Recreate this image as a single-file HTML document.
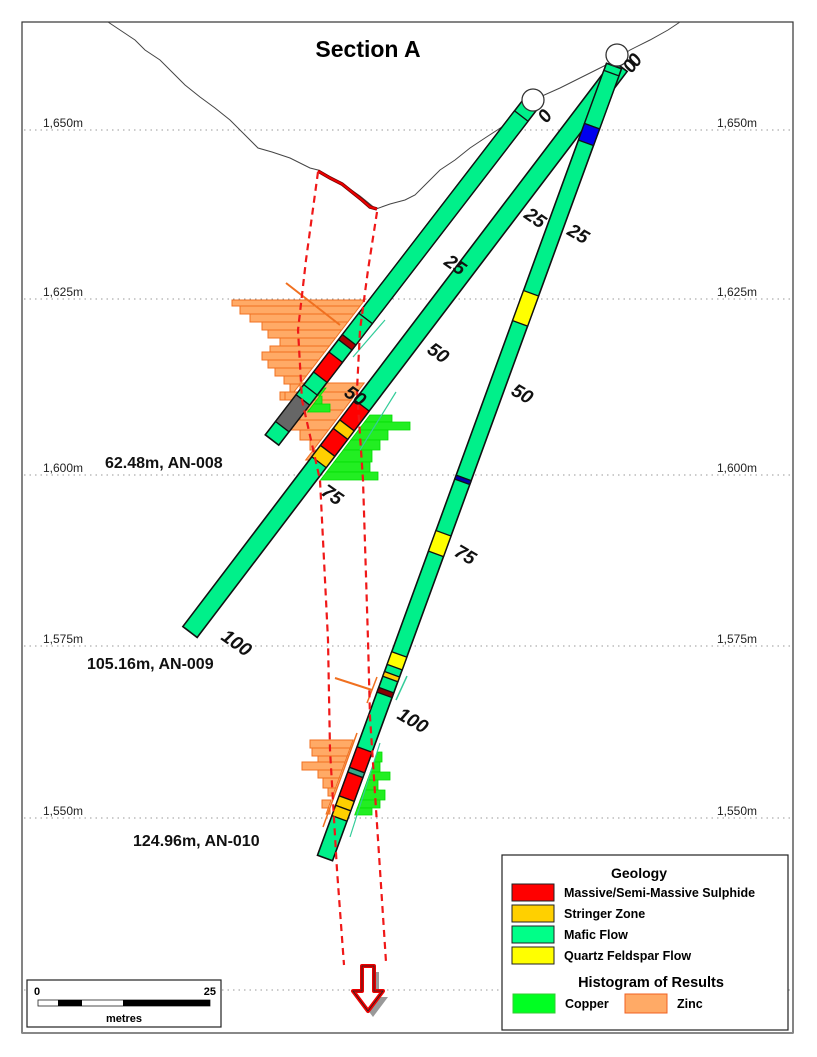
<!DOCTYPE html>
<html><head><meta charset="utf-8">
<style>
html,body{margin:0;padding:0;background:#fff;}
svg{display:block;font-family:"Liberation Sans",Arial,sans-serif;}
</style></head>
<body>
<svg id="s" xmlns="http://www.w3.org/2000/svg" width="817" height="1057" viewBox="0 0 817 1057">
<rect x="22" y="22" width="771" height="1011" fill="#fff" stroke="#333" stroke-width="1.2"/>
<line x1="22" y1="1033" x2="793" y2="1033" stroke="#888" stroke-width="2"/>
<g stroke="#999" stroke-width="1" stroke-dasharray="1.5,4">
<line x1="24" y1="130" x2="792" y2="130"/>
<line x1="24" y1="299" x2="792" y2="299"/>
<line x1="24" y1="475" x2="792" y2="475"/>
<line x1="24" y1="646" x2="792" y2="646"/>
<line x1="24" y1="818" x2="792" y2="818"/>
<line x1="24" y1="990" x2="792" y2="990"/>
</g>
<g font-size="12" fill="#222">
<text x="43" y="127">1,650m</text><text x="717" y="127">1,650m</text>
<text x="43" y="296">1,625m</text><text x="717" y="296">1,625m</text>
<text x="43" y="472">1,600m</text><text x="717" y="472">1,600m</text>
<text x="43" y="643">1,575m</text><text x="717" y="643">1,575m</text>
<text x="43" y="815">1,550m</text><text x="717" y="815">1,550m</text>
</g>
<text x="368" y="57" font-size="23" font-weight="bold" text-anchor="middle">Section A</text>
<polyline fill="none" stroke="#444" stroke-width="1" points="108,22 120,30 135,40 145,50 160,60 175,75 185,85 200,97 215,108 230,120 245,135 258,148 272,152 290,158 310,168 318,170 340,182 360,196 376,209 390,204 405,200 415,195 425,185 440,170 455,160 470,148 485,138 505,125 520,112 533,100 560,88 580,78 600,68 612,62 630,50 650,40 668,30 680,22"/>
<polyline fill="none" stroke="#700" stroke-width="3.5" points="318,171 330,178 342,184 352,192 362,200 370,207 377,209"/>
<polyline fill="none" stroke="#e00" stroke-width="2" points="318,171 330,178 342,184 352,192 362,200 370,207 377,209"/>
<g id="hist"></g>
<g id="holes"></g>
<g fill="none" stroke="#f01818" stroke-width="2.2" stroke-dasharray="7,5">
<path d="M318,172 L306,260 L298,330 L302,400 L320,480 L328,640 L330,750 L337,870 L344,965"/>
<path d="M377,212 L368,270 L360,330 L357,390 L363,480 L368,640 L370,717 L380,870 L386,962"/>
</g>
<g id="circ"></g>
<g font-weight="bold" font-style="italic" font-size="19" fill="#111" id="depth"></g>
<g font-weight="bold" font-size="16" fill="#111">
<text x="105" y="468">62.48m, AN-008</text>
<text x="87" y="669">105.16m, AN-009</text>
<text x="133" y="846">124.96m, AN-010</text>
</g>
<!-- arrow -->
<g transform="translate(368,966)">
<path d="M-6,3 h12 v25 h9 l-15,20 l-15,-20 h9z" fill="#999" transform="translate(5,3)"/>
<path d="M-6,0 h12 v25 h9 l-15,20 l-15,-20 h9z" fill="#fff" stroke="#e00" stroke-width="4" stroke-linejoin="round"/>
<path d="M-6,0 h12 v25 h9 l-15,20 l-15,-20 h9z" fill="none" stroke="#222" stroke-width="0.8"/>
</g>
<!-- scale -->
<rect x="27" y="980" width="194" height="47" fill="#fff" stroke="#222" stroke-width="1.2"/>
<text x="34" y="995" font-size="11" font-weight="bold">0</text>
<text x="216" y="995" font-size="11" font-weight="bold" text-anchor="end">25</text>
<rect x="38" y="1000" width="172" height="6" fill="#fff" stroke="#222" stroke-width="0.8"/>
<rect x="58" y="1000" width="24" height="6" fill="#000"/>
<rect x="123" y="1000" width="87" height="6" fill="#000"/>
<text x="124" y="1022" font-size="11" font-weight="bold" text-anchor="middle">metres</text>
<!-- legend -->
<rect x="502" y="855" width="286" height="175" fill="#fff" stroke="#222" stroke-width="1.2"/>
<text x="639" y="878" font-size="14" font-weight="bold" text-anchor="middle">Geology</text>
<g stroke="#222" stroke-width="1">
<rect x="512" y="884" width="42" height="17" fill="#ff0000"/>
<rect x="512" y="905" width="42" height="17" fill="#ffd000"/>
<rect x="512" y="926" width="42" height="17" fill="#00ff88"/>
<rect x="512" y="947" width="42" height="17" fill="#ffff00"/>
</g>
<g font-size="12.5" font-weight="bold">
<text x="564" y="897">Massive/Semi-Massive Sulphide</text>
<text x="564" y="918">Stringer Zone</text>
<text x="564" y="939">Mafic Flow</text>
<text x="564" y="960">Quartz Feldspar Flow</text>
<text x="565" y="1008">Copper</text>
<text x="677" y="1008">Zinc</text>
</g>
<text x="651" y="987" font-size="14.5" font-weight="bold" text-anchor="middle">Histogram of Results</text>
<rect x="513" y="994" width="42" height="19" fill="#00ff22" stroke="#3c3" stroke-width="1"/>
<rect x="625" y="994" width="42" height="19" fill="#ffaa66" stroke="#f06020" stroke-width="1"/>
</svg>
<script>
var NS="http://www.w3.org/2000/svg";
function el(p,t,a){var e=document.createElementNS(NS,t);for(var k in a)e.setAttribute(k,a[k]);document.getElementById(p).appendChild(e);return e;}
var holes={
 a:{p0:[529,106],p1:[272,440],w:17},
 b:{p0:[620,66],p1:[190,632],w:18},
 c:{p0:[614,66],p1:[325,858],w:16}
};
function pt(h,t,o){var dx=h.p1[0]-h.p0[0],dy=h.p1[1]-h.p0[1],L=Math.hypot(dx,dy);var nx=-dy/L,ny=dx/L;return [h.p0[0]+dx*t+nx*o,h.p0[1]+dy*t+ny*o];}
function seg(h,a,b,fill,sw){var w=h.w/2;var q=[pt(h,a,-w),pt(h,b,-w),pt(h,b,w),pt(h,a,w)];el("holes","polygon",{points:q.map(function(p){return p.join(",")}).join(" "),fill:fill,stroke:"#111","stroke-width":sw||1.3});}
function xAt(h,y){return h.p0[0]+(h.p1[0]-h.p0[0])*(y-h.p0[1])/(h.p1[1]-h.p0[1]);}
function zinc(h,off,bars){bars.forEach(function(b){var y1=b[0],y2=b[1],l=b[2];var q=[[l,y1],[xAt(h,y1)-off,y1],[xAt(h,y2)-off,y2],[l,y2]];el("hist","polygon",{points:q.map(function(p){return p.join(",")}).join(" "),fill:"#ffaa66",stroke:"#f07020","stroke-width":1});});}
function cu(h,off,bars){bars.forEach(function(b){var y1=b[0],y2=b[1],r=b[2];var q=[[xAt(h,y1)+off,y1],[r,y1],[r,y2],[xAt(h,y2)+off,y2]];el("hist","polygon",{points:q.map(function(p){return p.join(",")}).join(" "),fill:"#22ee22",stroke:"#00dd00","stroke-width":0.8});});}
var A=holes.a,B=holes.b,C=holes.c;
zinc(A,15,[[300,306,232],[306,314,240],[314,322,250],[322,330,262],[330,338,268],[338,346,280],[346,352,270],[352,360,262],[360,368,268],[368,376,275],[376,384,284],[384,392,290],[392,400,280]]);
zinc(B,15,[[383,392,300],[392,400,285],[400,410,296],[410,420,300],[420,430,288],[430,440,300],[440,450,310],[450,460,318]]);
zinc(C,15,[[740,748,310],[748,756,312],[756,762,318],[762,770,302],[770,778,318],[778,788,323],[788,796,328],[800,808,322],[808,814,330]]);
cu(A,14,[[388,396,318],[396,404,322],[404,412,330]]);
cu(B,15,[[415,422,392],[422,430,410],[430,440,388],[440,450,380],[450,462,372],[462,472,370],[472,480,378]]);
cu(C,14,[[752,762,382],[762,772,380],[772,780,390],[780,790,378],[790,800,385],[800,808,380],[808,815,372]]);
el("hist","line",{x1:286,y1:283,x2:340,y2:325,stroke:"#f07020","stroke-width":2});
el("hist","line",{x1:335,y1:678,x2:372,y2:690,stroke:"#f07020","stroke-width":2});
el("hist","line",{x1:377,y1:677,x2:367,y2:703,stroke:"#f07020","stroke-width":1.5});
el("hist","line",{x1:357,y1:733,x2:323,y2:827,stroke:"#f07020","stroke-width":1.5});
el("hist","line",{x1:385,y1:320,x2:353,y2:357,stroke:"#3c9","stroke-width":1.2});
el("hist","line",{x1:396,y1:392,x2:360,y2:450,stroke:"#3c9","stroke-width":1.2});
el("hist","line",{x1:380,y1:743,x2:350,y2:837,stroke:"#3c9","stroke-width":1.2});
el("hist","line",{x1:407,y1:676,x2:396,y2:700,stroke:"#3c9","stroke-width":1.5});
var G="#00f08a";
seg(A,0,1,G,1.6);
seg(A,0.03,0.636,G);seg(A,0.636,0.70,G);seg(A,0.70,0.715,"#a00");seg(A,0.752,0.812,"#ff0000");seg(A,0.85,0.88,G);seg(A,0.88,0.96,"#666");
seg(B,0,1,G,1.6);
seg(B,0.60,0.635,"#ff0000");seg(B,0.635,0.65,"#ffd000");seg(B,0.65,0.68,"#ff0000");seg(B,0.68,0.70,"#ffd000");
seg(C,0,1,G,1.6);
seg(C,0.009,0.076,G);seg(C,0.076,0.097,"#0000ee");seg(C,0.287,0.325,"#ffff00");seg(C,0.52,0.525,"#0000aa");seg(C,0.59,0.616,"#ffff00");seg(C,0.743,0.759,"#ffff00");seg(C,0.768,0.774,"#ffd000");seg(C,0.788,0.794,"#800");seg(C,0.863,0.889,"#ff0000");seg(C,0.889,0.895,"#3a8");seg(C,0.895,0.925,"#ff0000");seg(C,0.925,0.937,"#ffd000");seg(C,0.937,0.95,"#ffd000");
[[533,100,11],[617,55,11]].forEach(function(c){el("circ","circle",{cx:c[0],cy:c[1],r:c[2],fill:"#fff",stroke:"#333","stroke-width":1.3});});
[["0",547,124,-55],["0",632,74,-55],["0",637,68,-55],["25",443,264,35],["50",343,395,35],["25",523,217,35],["50",426,352,35],["75",320,494,35],["100",220,639,35],["25",566,234,30],["50",510,394,30],["75",453,555,30],["100",396,718,30]].forEach(function(d){var t=el("depth","text",{x:d[1],y:d[2],transform:"rotate("+d[3]+" "+d[1]+" "+d[2]+")"});t.textContent=d[0];});
</script>
</body></html>
